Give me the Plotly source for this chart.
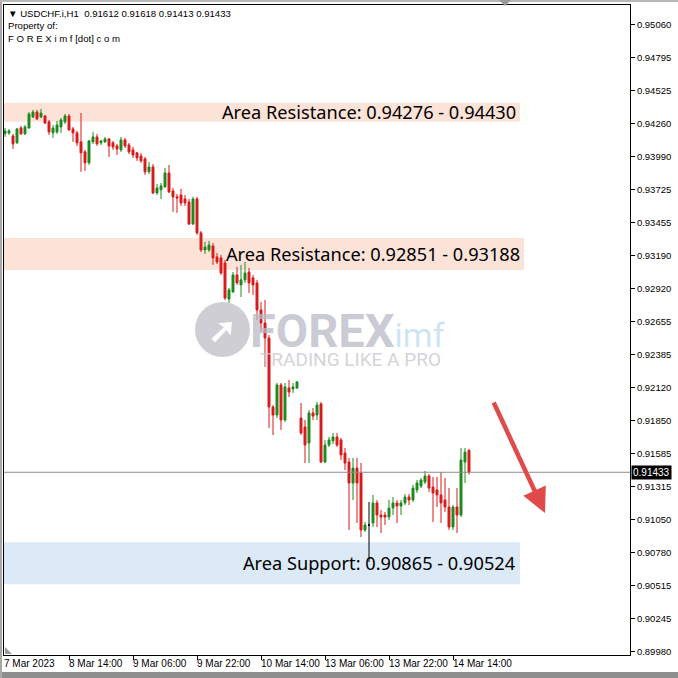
import pandas as pd
import plotly.graph_objects as go

# ---------------- data ----------------
hours = pd.date_range("2023-03-07 22:00", "2023-03-14 18:00", freq="h")
times = [t.strftime("%Y-%m-%d %H:%M") for t in hours if t.weekday() < 5]

opens = [0.94177, 0.94185, 0.94160, 0.94104, 0.94225, 0.94177, 0.94225, 0.94314, 0.94354, 0.94314,
         0.94322, 0.94274, 0.94185, 0.94193, 0.94233, 0.94274, 0.94322, 0.94217, 0.94185, 0.94112,
         0.94031, 0.93942, 0.94112, 0.94152, 0.94104, 0.94112, 0.94136, 0.94104, 0.94079, 0.94047,
         0.94128, 0.94087, 0.94047, 0.94023, 0.93998, 0.93974, 0.93869, 0.93909, 0.93698, 0.93723,
         0.93747, 0.93860, 0.93714, 0.93666, 0.93682, 0.93649, 0.93625, 0.93446, 0.93649, 0.93374,
         0.93236, 0.93236, 0.93268, 0.93179, 0.93171, 0.93130, 0.92838, 0.92895, 0.93033, 0.92952,
         0.92993, 0.93057, 0.93009, 0.92968, 0.92749, 0.92643, 0.92522, 0.91962, 0.91897, 0.92141,
         0.91857, 0.92116, 0.92108, 0.92116, 0.91873, 0.91800, 0.91670, 0.91914, 0.91897, 0.91987,
         0.91516, 0.91654, 0.91687, 0.91719, 0.91695, 0.91589, 0.91516, 0.91346, 0.91467, 0.91427,
         0.90965, 0.91005, 0.91022, 0.91184, 0.91086, 0.91086, 0.91070, 0.91143, 0.91184, 0.91159,
         0.91184, 0.91232, 0.91208, 0.91289, 0.91321, 0.91354, 0.91403, 0.91313, 0.91289, 0.91249,
         0.91208, 0.91151, 0.90989, 0.91151, 0.91086, 0.91516, 0.91612]
highs = [0.94225, 0.94217, 0.94177, 0.94225, 0.94241, 0.94249, 0.94354, 0.94371, 0.94371, 0.94379,
         0.94330, 0.94290, 0.94249, 0.94282, 0.94306, 0.94338, 0.94338, 0.94233, 0.94201, 0.94346,
         0.94047, 0.94128, 0.94193, 0.94177, 0.94128, 0.94152, 0.94144, 0.94120, 0.94096, 0.94152,
         0.94144, 0.94104, 0.94071, 0.94031, 0.94023, 0.93990, 0.93950, 0.93933, 0.93771, 0.93779,
         0.93901, 0.93925, 0.93739, 0.93690, 0.93731, 0.93682, 0.93649, 0.93666, 0.93666, 0.93390,
         0.93301, 0.93309, 0.93292, 0.93211, 0.93195, 0.93155, 0.92928, 0.93057, 0.93098, 0.93114,
         0.93138, 0.93090, 0.93033, 0.92993, 0.92814, 0.92830, 0.92546, 0.91978, 0.92157, 0.92157,
         0.92157, 0.92181, 0.92157, 0.92173, 0.91995, 0.91857, 0.91938, 0.91954, 0.92003, 0.92003,
         0.91695, 0.91719, 0.91751, 0.91751, 0.91711, 0.91630, 0.91549, 0.91549, 0.91549, 0.91508,
         0.91030, 0.91192, 0.91249, 0.91208, 0.91127, 0.91111, 0.91208, 0.91232, 0.91208, 0.91208,
         0.91257, 0.91257, 0.91330, 0.91370, 0.91386, 0.91443, 0.91419, 0.91395, 0.91395, 0.91435,
         0.91386, 0.91305, 0.91167, 0.91305, 0.91630, 0.91630, 0.91618]
lows = [0.94152, 0.94168, 0.94055, 0.94096, 0.94168, 0.94168, 0.94217, 0.94306, 0.94290, 0.94306,
        0.94257, 0.94168, 0.94144, 0.94177, 0.94185, 0.94257, 0.94201, 0.94112, 0.94079, 0.93869,
        0.93877, 0.93925, 0.94096, 0.94079, 0.94087, 0.94104, 0.93990, 0.94047, 0.94006, 0.94031,
        0.94063, 0.94014, 0.93982, 0.93958, 0.93942, 0.93844, 0.93852, 0.93690, 0.93682, 0.93649,
        0.93739, 0.93698, 0.93544, 0.93536, 0.93592, 0.93592, 0.93438, 0.93438, 0.93358, 0.93219,
        0.93203, 0.93219, 0.93114, 0.93122, 0.93033, 0.92830, 0.92806, 0.92887, 0.92952, 0.92854,
        0.92968, 0.92887, 0.92871, 0.92668, 0.92570, 0.92287, 0.91792, 0.91735, 0.91873, 0.91776,
        0.91841, 0.92043, 0.92076, 0.92108, 0.91735, 0.91508, 0.91508, 0.91857, 0.91857, 0.91508,
        0.91508, 0.91638, 0.91662, 0.91638, 0.91532, 0.91451, 0.90965, 0.91208, 0.91022, 0.90908,
        0.90949, 0.90705, 0.90989, 0.90989, 0.90940, 0.91005, 0.91046, 0.91086, 0.91022, 0.91086,
        0.91167, 0.91167, 0.91192, 0.91265, 0.91305, 0.91338, 0.91273, 0.91030, 0.91151, 0.91022,
        0.91111, 0.90965, 0.90965, 0.90940, 0.91070, 0.91346, 0.91413]
closes = [0.94201, 0.94201, 0.94096, 0.94217, 0.94177, 0.94233, 0.94338, 0.94354, 0.94298, 0.94346,
          0.94265, 0.94193, 0.94225, 0.94249, 0.94290, 0.94322, 0.94209, 0.94185, 0.94104, 0.94023,
          0.93942, 0.94120, 0.94152, 0.94096, 0.94120, 0.94136, 0.94079, 0.94071, 0.94055, 0.94128,
          0.94079, 0.94031, 0.94006, 0.93982, 0.93958, 0.93869, 0.93909, 0.93698, 0.93739, 0.93755,
          0.93860, 0.93706, 0.93666, 0.93657, 0.93617, 0.93617, 0.93446, 0.93649, 0.93374, 0.93236,
          0.93260, 0.93276, 0.93171, 0.93138, 0.93049, 0.92846, 0.92912, 0.93033, 0.92968, 0.92993,
          0.93049, 0.92968, 0.92952, 0.92749, 0.92643, 0.92522, 0.91962, 0.91897, 0.92141, 0.91857,
          0.92125, 0.92084, 0.92125, 0.92165, 0.91751, 0.91654, 0.91914, 0.91889, 0.91978, 0.91516,
          0.91654, 0.91695, 0.91719, 0.91654, 0.91573, 0.91508, 0.91346, 0.91467, 0.91346, 0.90965,
          0.91005, 0.91005, 0.91184, 0.91086, 0.91070, 0.91070, 0.91143, 0.91184, 0.91159, 0.91184,
          0.91232, 0.91208, 0.91305, 0.91346, 0.91370, 0.91403, 0.91305, 0.91265, 0.91249, 0.91184,
          0.91151, 0.90989, 0.91151, 0.91086, 0.91532, 0.91597, 0.91433]

doji_index = 91  # candle with open == close, drawn in black

price_ticks = [0.95060, 0.94795, 0.94525, 0.94260, 0.93990, 0.93725, 0.93455, 0.93190, 0.92920,
               0.92655, 0.92385, 0.92120, 0.91850, 0.91585, 0.91315, 0.91050, 0.90780, 0.90515,
               0.90245, 0.89980]
price_tick_text = ["%.5f" % v for v in price_ticks]

time_tick_index = [0, 16, 32, 48, 64, 80, 96, 112]
time_tick_text = ["7 Mar 2023", "8 Mar 14:00", "9 Mar 06:00", "9 Mar 22:00", "10 Mar 14:00",
                  "13 Mar 06:00", "13 Mar 22:00", "14 Mar 14:00"]

zones = [
    ("Area Resistance: 0.94276 - 0.94430", 0.94276, 0.94430, "#FCE3D8"),
    ("Area Resistance: 0.92851 - 0.93188", 0.93074, 0.93333, "#FCE3D8"),
    ("Area Support: 0.90865 - 0.90524", 0.90524, 0.90865, "#DCEAF8"),
]
zone_end = [128.75, 129.75, 128.75]

current_price = 0.91433
header = "USDCHF.i,H1  0.91612 0.91618 0.91413 0.91433"

# ---------------- figure ----------------
UP = "#1E8A1E"
DOWN = "#D81B1B"
AXFONT = "Liberation Sans"


def px_x(px):
    return (px - 4) / 626


def px_y(py):
    return (655 - py) / 650


main_idx = [i for i in range(len(times)) if i != doji_index]
fig = go.Figure()
fig.add_trace(go.Candlestick(
    x=[times[i] for i in main_idx],
    open=[opens[i] for i in main_idx], high=[highs[i] for i in main_idx],
    low=[lows[i] for i in main_idx], close=[closes[i] for i in main_idx],
    increasing=dict(line=dict(color=UP, width=1), fillcolor=UP),
    decreasing=dict(line=dict(color=DOWN, width=1), fillcolor=DOWN),
    showlegend=False, hoverinfo="skip"))
fig.add_trace(go.Candlestick(
    x=[times[doji_index]], open=[opens[doji_index]], high=[highs[doji_index]],
    low=[lows[doji_index]], close=[closes[doji_index]],
    increasing=dict(line=dict(color="black", width=1), fillcolor="black"),
    decreasing=dict(line=dict(color="black", width=1), fillcolor="black"),
    showlegend=False, hoverinfo="skip"))

shapes = []
annotations = []
for (label, lo, hi, col), xe in zip(zones, zone_end):
    shapes.append(dict(type="rect", xref="x", yref="y", x0=-0.25, x1=xe, y0=lo, y1=hi,
                       fillcolor=col, line=dict(width=0), layer="below"))
    annotations.append(dict(x=xe - 0.6, y=(lo + hi) / 2, xref="x", yref="y", text=label,
                            showarrow=False, xanchor="right", yanchor="middle",
                            font=dict(family="Noto Sans", size=18.2, color="black")))

# current price line + label
shapes.append(dict(type="line", xref="paper", yref="y", x0=0, x1=1, y0=current_price, y1=current_price,
                   line=dict(color="#8C8C8C", width=1)))
annotations.append(dict(x=1, y=current_price, xref="paper", yref="y", text="%.5f" % current_price,
                        showarrow=False, xanchor="left", yanchor="middle", xshift=1,
                        bgcolor="black", font=dict(family=AXFONT, size=10, color="white"),
                        borderpad=1))

# x tick labels (left aligned at tick)
for idx, txt in zip(time_tick_index, time_tick_text):
    annotations.append(dict(x=idx, y=0, xref="x", yref="paper", text=txt, showarrow=False,
                            xanchor="left", yanchor="top", yshift=-1, xshift=-2 if idx else -3,
                            font=dict(family=AXFONT, size=10, color="black")))

# header
annotations.append(dict(x=0.003, y=1, xref="paper", yref="paper", yanchor="top", xanchor="left",
                        yshift=-1, showarrow=False, align="left",
                        text="▼ " + header + "<br>Property of:<br>F O R E X i m f [dot] c o m",
                        font=dict(family=AXFONT, size=9.6, color="black")))

# watermark
shapes.append(dict(type="circle", xref="paper", yref="paper",
                   x0=px_x(195), x1=px_x(250), y0=px_y(357), y1=px_y(302),
                   fillcolor="rgba(190,190,198,0.75)", line=dict(width=0)))
annotations.append(dict(x=px_x(222), y=px_y(330), xref="paper", yref="paper",
                        text="<b>➚</b>", showarrow=False, font=dict(size=34, color="white")))
annotations.append(dict(x=px_x(248), y=px_y(330), xref="paper", yref="paper",
                        xanchor="left", yanchor="middle", showarrow=False,
                        text="<b>FOREX</b><span style='color:rgba(175,210,235,0.8);font-size:34px'>imf</span>",
                        font=dict(family="Roboto", size=47, color="rgba(185,186,198,0.75)")))
annotations.append(dict(x=px_x(258), y=px_y(359), xref="paper", yref="paper",
                        xanchor="left", yanchor="middle", showarrow=False,
                        text="TRADING LIKE A PRO",
                        font=dict(family="Roboto", size=19, color="rgba(200,200,206,0.8)")))

# red forecast arrow
annotations.append(dict(x=135, y=0.91102, xref="x", yref="y", ax=-52, ay=-112, text="",
                        showarrow=True, arrowhead=2, arrowsize=1.1, arrowwidth=4.5,
                        arrowcolor="#E04A4A", standoff=0))

# window frame strips and markers
shapes.append(dict(type="rect", xref="paper", yref="paper", x0=px_x(0), x1=px_x(678),
                   y0=px_y(678), y1=px_y(672), fillcolor="#8E8E8E", line=dict(width=0)))
shapes.append(dict(type="rect", xref="paper", yref="paper", x0=px_x(0), x1=px_x(2),
                   y0=px_y(678), y1=px_y(0), fillcolor="#A8A8A8", line=dict(width=0)))
shapes.append(dict(type="rect", xref="paper", yref="paper", x0=px_x(0), x1=px_x(678),
                   y0=px_y(2), y1=px_y(0), fillcolor="#B8B8B8", line=dict(width=0)))
shapes.append(dict(type="path", xref="paper", yref="paper",
                   path="M %f,%f L %f,%f L %f,%f Z" % (px_x(499), px_y(0), px_x(511), px_y(0),
                                                       px_x(505), px_y(6)),
                   fillcolor="#9A9A9A", line=dict(width=0)))
shapes.append(dict(type="path", xref="paper", yref="paper",
                   path="M %f,%f L %f,%f L %f,%f Z" % (px_x(5), px_y(647), px_x(5), px_y(654),
                                                       px_x(12), px_y(654)),
                   fillcolor="#9A9A9A", line=dict(width=0)))

fig.update_layout(
    width=678, height=678,
    margin=dict(l=4, r=48, t=5, b=23),
    paper_bgcolor="white", plot_bgcolor="white",
    shapes=shapes, annotations=annotations,
    showlegend=False,
    xaxis=dict(type="category", categoryorder="array", categoryarray=times,
               range=[-0.25, 156.25], rangeslider=dict(visible=False),
               showgrid=False, zeroline=False, showline=True, linecolor="black", linewidth=1,
               mirror=True, ticks="outside", ticklen=4, tickcolor="black",
               tickvals=[times[i] for i in time_tick_index[1:]], showticklabels=False),
    yaxis=dict(side="right", range=[0.89951, 0.95222], showgrid=False, zeroline=False,
               showline=True, linecolor="black", linewidth=1, mirror=True,
               tickvals=price_ticks, ticktext=price_tick_text, ticks="outside", ticklen=4,
               tickcolor="black", tickfont=dict(family=AXFONT, size=9.5, color="black")),
    font=dict(family=AXFONT),
)

fig.write_html("out.html", config={"displayModeBar": False},
               post_script="document.body.style.margin='0';document.body.style.padding='0';")
